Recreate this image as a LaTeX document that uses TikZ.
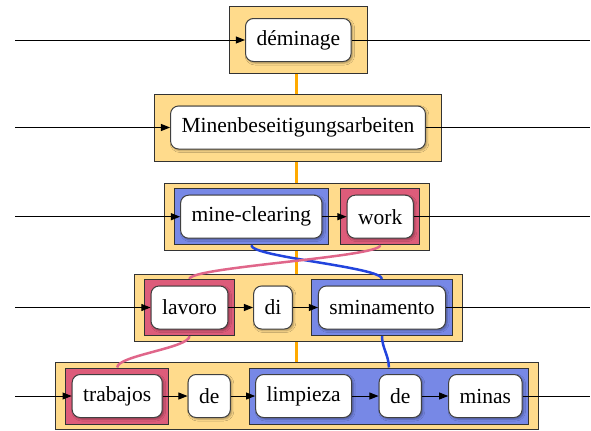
\documentclass[tikz,border=0pt]{standalone}
\usepackage{fontspec}
\setmainfont{Liberation Serif}
\usetikzlibrary{arrows.meta, fit, backgrounds, shadows.blur}

\definecolor{rowfill}{HTML}{FFDB8C}
\definecolor{bluefill}{HTML}{7788E6}
\definecolor{redfill}{HTML}{DD5C7A}
\definecolor{bluelink}{HTML}{2244DD}
\definecolor{redlink}{HTML}{E0668A}
\definecolor{spinecol}{HTML}{FFAA00}

\tikzset{
  word/.style={draw=black!75, fill=white, rounded corners=4.8pt,
    minimum height=25.8pt, inner xsep=6.6pt, line width=0.6pt,
    font=\fontsize{12.9}{15}\selectfont,
    blur shadow={shadow xshift=0.9pt, shadow yshift=-0.9pt,
      shadow blur radius=1.2pt, shadow opacity=35}},
  rowbox/.style={draw=black!80, fill=rowfill, line width=0.6pt,
    inner xsep=9.6pt, inner ysep=6.9pt},
  bluebox/.style={draw=black!80, fill=bluefill, line width=0.6pt, inner sep=3.6pt},
  redbox/.style={draw=black!80, fill=redfill, line width=0.6pt, inner sep=3.6pt},
  arr/.style={-{Triangle[length=5.5pt,width=4.2pt]}, line width=0.6pt},
  plain/.style={line width=0.6pt},
  link/.style={line width=1.5pt},
}

\begin{document}
\begin{tikzpicture}[x=0.6pt, y=-0.6pt]
    \useasboundingbox (0,0) rectangle (591,430);
    % Words, one row per language
    \node[word] (dem) at (298.3,40) {déminage};
    \node[word] (minen) at (298,127.5) {Minenbeseitigungsarbeiten};
    \node[word] (mc) at (251.3,216.7) {mine-clearing};
    \node[word] (work) at (380.2,216.7) {work};
    \node[word] (lav) at (189.5,307.5) {lavoro};
    \node[word] (di) at (273,307.5) {di};
    \node[word] (smi) at (382,307.5) {sminamento};
    \node[word] (tra) at (117.2,396) {trabajos};
    \node[word] (de1) at (209.2,396) {de};
    \node[word] (limp) at (303.7,396) {limpieza};
    \node[word] (de2) at (400.2,396) {de};
    \node[word] (minas) at (485.4,396) {minas};
    % Ends of the row lines
    \coordinate (lft) at (15,0);
    \coordinate (rgt) at (590,0);
    \coordinate (spinex) at (296.7,0);
    % Boxes behind the words
    \begin{pgfonlayer}{background}
      \draw[spinecol, line width=1.5pt] (dem.south -| spinex) -- (tra.north -| spinex);
      \node[rowbox, fit=(dem)] (r1) {};
      \node[rowbox, fit=(minen)] (r2) {};
      \node[rowbox, fit=(mc) (work)] (r3) {};
      \node[rowbox, fit=(lav) (smi)] (r4) {};
      \node[rowbox, fit=(tra) (minas)] (r5) {};
      \node[bluebox, fit=(mc)] (bmc) {};
      \node[redbox, fit=(work)] (rwork) {};
      \node[redbox, fit=(lav)] (rlav) {};
      \node[bluebox, fit=(smi)] (bsmi) {};
      \node[redbox, fit=(tra)] (rtra) {};
      \node[bluebox, fit=(limp) (minas)] (blim) {};
    \end{pgfonlayer}
    % Row lines
    \foreach \first/\last in {dem/dem, minen/minen, mc/work, lav/smi, tra/minas} {
      \draw[arr] (\first -| lft) -- (\first);
      \draw[plain] (\last) -- (\last -| rgt);
    }
    \draw[arr] (mc) -- (work);
    \draw[arr] (lav) -- (di);
    \draw[arr] (di) -- (smi);
    \draw[arr] (tra) -- (de1);
    \draw[arr] (de1) -- (limp);
    \draw[arr] (limp) -- (de2);
    \draw[arr] (de2) -- (minas);
    % Alignment links
    \draw[link, bluelink] (bmc.south) .. controls +(0,12) and +(0,-12) .. (bsmi.north);
    \draw[link, redlink] (rwork.south) .. controls +(0,12) and +(0,-12) .. (rlav.north);
    \draw[link, redlink] (rlav.south) .. controls +(0,12) and +(0,-12) .. (rtra.north);
    \draw[link, bluelink] (bsmi.south) .. controls +(0,12) and +(0,-12) .. (blim.north);
\end{tikzpicture}
\end{document}
